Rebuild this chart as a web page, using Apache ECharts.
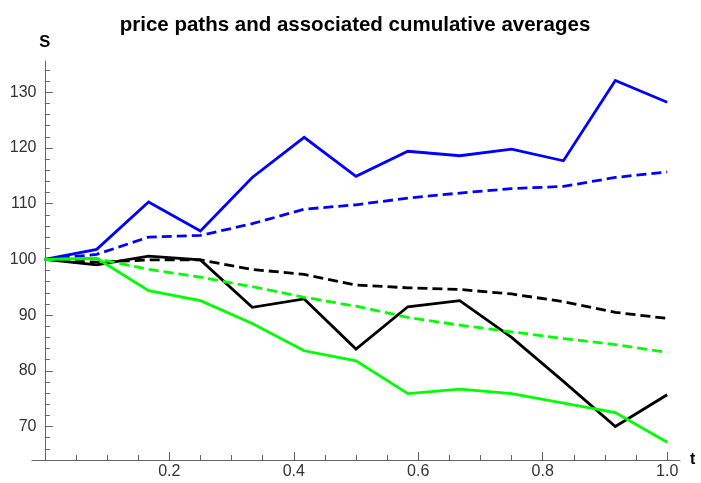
<!DOCTYPE html>
<html>
<head>
<meta charset="utf-8">
<script src="https://cdn.jsdelivr.net/npm/echarts@6/dist/echarts.min.js"></script>
<style>
  html, body { margin: 0; padding: 0; background: #fff; }
  #chart { width: 701px; height: 483px; }
</style>
</head>
<body>
<div id="chart"></div>
<script>
// Time grid (12 monthly steps over one year)
const times = [0, 0.0833, 0.1667, 0.25, 0.3333, 0.4167, 0.5, 0.5833, 0.6667, 0.75, 0.8333, 0.9167, 1.0];

// Price paths
const bluePath  = [100, 101.8, 110.3, 105.1, 114.7, 121.9, 114.9, 119.4, 118.6, 119.8, 117.7, 132.1, 128.2];
const blackPath = [100, 99.0, 100.6, 99.9, 91.4, 92.9, 83.9, 91.5, 92.6, 86.0, 78.1, 70.0, 75.7];
const greenPath = [100, 100.2, 94.4, 92.6, 88.5, 83.6, 81.8, 75.9, 76.7, 75.9, 74.2, 72.5, 67.2];

// Running (cumulative) averages of each path
const blueAvg  = [100, 100.9, 104.0, 104.3, 106.4, 109.0, 109.8, 111.0, 111.9, 112.7, 113.1, 114.7, 115.7];
const blackAvg = [100, 99.5, 99.9, 99.9, 98.2, 97.3, 95.4, 94.9, 94.6, 93.8, 92.4, 90.5, 89.4];
const greenAvg = [100, 100.1, 98.2, 96.8, 95.1, 93.2, 91.6, 89.6, 88.2, 87.0, 85.8, 84.7, 83.3];

// Tick positions and labels
const xLabels     = [0.2, 0.4, 0.6, 0.8, 1.0];
const xMajorTicks = [0.2, 0.4, 0.6, 0.8, 1.0];
const xMinorTicks = [0.05, 0.1, 0.15, 0.25, 0.3, 0.35, 0.45, 0.5, 0.55, 0.65, 0.7, 0.75, 0.85, 0.9, 0.95];
const yLabels     = [70, 80, 90, 100, 110, 120, 130];
const yMajorTicks = [70, 80, 90, 100, 110, 120, 130];
const yMinorTicks = [66, 68, 72, 74, 76, 78, 82, 84, 86, 88, 92, 94, 96, 98, 102, 104, 106, 108,
                     112, 114, 116, 118, 122, 124, 126, 128, 132, 134];

const X_MIN = -0.0206, X_MAX = 1.0206;
const Y_MIN = 64.0, Y_MAX = 135.6;

const FONT = '"Liberation Sans", Arial, sans-serif';
const AXIS_COLOR = '#666';
const LABEL_COLOR = '#333';

const pairs = (vals) => vals.map((v, i) => [times[i], v]);

const gridRect = { left: 32, right: 21, top: 61, bottom: 23, containLabel: false, outerBoundsMode: 'none' };

function lineSeries(name, vals, color, dashed) {
  return {
    name: name,
    type: 'line',
    xAxisIndex: 0,
    yAxisIndex: 0,
    data: pairs(vals),
    showSymbol: false,
    symbol: 'none',
    lineStyle: {
      color: color,
      width: 2.8,
      type: dashed ? [10, 5] : 'solid',
      cap: 'butt',
      join: 'miter'
    },
    emphasis: { disabled: true },
    z: 3
  };
}

const chart = echarts.init(document.getElementById('chart'), null, { renderer: 'canvas' });

chart.setOption({
  animation: false,
  backgroundColor: '#fff',
  title: {
    text: 'price paths and associated cumulative averages',
    left: 350,
    top: 10,
    textAlign: 'center',
    textStyle: { fontFamily: FONT, fontWeight: 'bold', fontSize: 20.5, color: '#000' }
  },
  grid: [gridRect, Object.assign({}, gridRect)],
  xAxis: [
    {
      type: 'value', gridIndex: 0, min: X_MIN, max: X_MAX,
      name: 't', nameLocation: 'end', nameGap: 10,
      nameTextStyle: { fontFamily: FONT, fontWeight: 'bold', fontSize: 16, color: '#000',
                       align: 'left', verticalAlign: 'middle' },
      axisLine: { show: true, lineStyle: { color: AXIS_COLOR, width: 1 } },
      axisTick: { show: true, inside: true, length: 5, customValues: xMinorTicks,
                  lineStyle: { color: AXIS_COLOR, width: 1 } },
      axisLabel: { show: true, customValues: xLabels, margin: 4,
                   formatter: (v) => Number(v).toFixed(1),
                   fontFamily: FONT, fontSize: 16, color: LABEL_COLOR },
      splitLine: { show: false }
    },
    {
      type: 'value', gridIndex: 1, min: X_MIN, max: X_MAX,
      axisLine: { show: false },
      axisTick: { show: true, inside: true, length: 8, customValues: xMajorTicks,
                  lineStyle: { color: AXIS_COLOR, width: 1 } },
      axisLabel: { show: false },
      splitLine: { show: false }
    }
  ],
  yAxis: [
    {
      type: 'value', gridIndex: 0, min: Y_MIN, max: Y_MAX,
      name: 'S', nameLocation: 'end', nameGap: 19,
      nameTextStyle: { fontFamily: FONT, fontWeight: 'bold', fontSize: 16.5, color: '#000',
                       align: 'center', verticalAlign: 'middle' },
      axisLine: { show: true, onZero: true, lineStyle: { color: AXIS_COLOR, width: 1 } },
      axisTick: { show: true, inside: true, length: 5, customValues: yMinorTicks,
                  lineStyle: { color: AXIS_COLOR, width: 1 } },
      // labels are laid out from the grid edge, so a negative margin pulls them to the axis
      axisLabel: { show: true, customValues: yLabels, margin: -4.5,
                   fontFamily: FONT, fontSize: 16, color: LABEL_COLOR },
      splitLine: { show: false }
    },
    {
      type: 'value', gridIndex: 1, min: Y_MIN, max: Y_MAX,
      axisLine: { show: false, onZero: true },
      axisTick: { show: true, inside: true, length: 8, customValues: yMajorTicks,
                  lineStyle: { color: AXIS_COLOR, width: 1 } },
      axisLabel: { show: false },
      splitLine: { show: false }
    }
  ],
  series: [
    lineSeries('blue path', bluePath, '#0000ff', false),
    lineSeries('blue average', blueAvg, '#0000ff', true),
    lineSeries('black path', blackPath, '#000000', false),
    lineSeries('black average', blackAvg, '#000000', true),
    lineSeries('green path', greenPath, '#00ff00', false),
    lineSeries('green average', greenAvg, '#00ff00', true)
  ]
});
</script>
</body>
</html>
